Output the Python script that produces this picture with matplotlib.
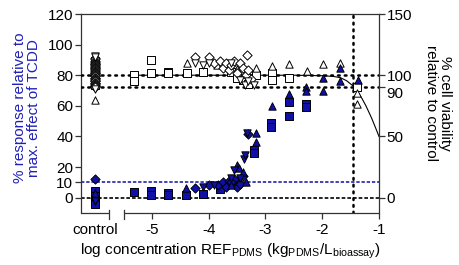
import matplotlib
matplotlib.use("Agg")
import matplotlib.pyplot as plt

plt.rcParams['font.family'] = ['Liberation Sans', 'DejaVu Sans']

BLUE = '#1010A8'
LBLUE = '#2020B8'

# x positions: control plotted at -6 (broken axis)
x_ticks = [-6, -5, -4, -3, -2, -1]
x_ticklabels = ['control', '-5', '-4', '-3', '-2', '-1']
left_ticks = [0, 10, 20, 40, 60, 80, 100, 120]
right_ticks = [0, 50, 90, 100, 150]

# ---- response (% of max TCDD effect), filled blue markers ----
resp_sq_x = [-6, -6, -6, -6, -5.31, -5.01, -5.01, -4.71, -4.71, -4.40, -4.10,
             -3.80, -3.65, -3.50, -3.20, -3.20, -2.90, -2.90, -2.59, -2.59,
             -2.28, -2.28]
resp_sq_y = [4.5, 1, -2.5, -4, 3.7, 4.5, 2, 3, 1.8, 2, 2.6,
             6, 9, 11, 31, 29, 48.5, 46.5, 62.8, 53.5, 61, 59]
resp_di_x = [-6, -6, -4.25, -3.99, -3.83, -3.75, -3.70, -3.65, -3.55, -3.50,
             -3.45, -3.40, -3.30, -3.60]
resp_di_y = [12.4, 0, 6.3, 8.5, 8.5, 10, 7, 11, 12, 7, 9, 14, 41.5, 10]
resp_tu_x = [-6, -4.40, -3.60, -3.50, -3.47, -3.40, -3.35, -3.16, -3.16, -2.88,
             -2.59, -2.28, -2.28, -1.98, -1.98, -1.68, -1.68, -1.37]
resp_tu_y = [3, 6.3, 8, 21.5, 19.4, 17, 10, 42, 36.7, 60,
             67.6, 72, 70, 78, 69.4, 85, 76.3, 77]
resp_td_x = [-6, -4.10, -3.90, -3.60, -3.56, -3.45, -3.38, -3.36, -3.33]
resp_td_y = [-2, 7, 8, 13, 18, 13, 25, 28, 42]

# ---- cell viability (% of control), open markers ----
via_ctrl_di_y = [114, 113, 112, 111, 110, 109.5, 109, 108, 107.5, 107, 106,
                 105.5, 105, 104, 103.5, 103, 102, 101.5, 101, 100, 99.5, 99,
                 98, 97.5, 97, 96, 95.5, 95, 94, 93.5, 93, 92, 91.5, 91, 90]
via_ctrl_sq_y = [112, 108, 104, 100, 96, 92]
via_ctrl_tu_y = [80, 98, 106]
via_ctrl_td_y = [116, 114.5, 89]
via_sq_x = [-5.31, -5.31, -5.01, -5.01, -4.71, -4.71, -4.38, -4.10, -3.60,
            -3.50, -3.40, -3.30, -3.16, -2.89, -2.89, -2.58, -1.38]
via_sq_y = [100.3, 95, 112.5, 101.7, 103, 101.5, 101.7, 103, 103,
            98, 96, 93, 100, 101.7, 96.2, 97.5, 90]
via_tu_x = [-4.38, -3.85, -3.50, -3.16, -2.89, -2.58, -2.27, -1.98, -1.68,
            -1.38, -1.38]
via_tu_y = [109.8, 108, 105, 106, 107.3, 109, 103.6, 108.8, 110, 85.5, 76.5]
via_di_x = [-4.24, -3.99, -3.90, -3.80, -3.75, -3.70, -3.65, -3.60, -3.55,
            -3.50, -3.45, -3.40, -3.35, -3.33, -3.30, -3.25]
via_di_y = [115, 115, 110, 112, 106, 110, 104, 108, 112,
            102, 110, 106, 100, 116.6, 104, 97]
via_td_x = [-4.24, -4.10, -3.99, -3.60, -3.45, -3.36, -3.30, -3.20]
via_td_y = [110, 108.5, 110, 110, 96, 92, 94.9, 92]

# fitted viability curve
fit_x = [-5.35, -2.5, -2.0, -1.8, -1.68, -1.57, -1.45, -1.37, -1.30, -1.23,
         -1.13, -1.06, -1.0]
fit_y = [100, 100, 99.6, 99, 98, 95.5, 91, 86, 81, 75, 65, 57, 50]

vline_x = -1.46
control_x = -6

fig = plt.figure(figsize=(4.59, 2.65), dpi=100)
ax = fig.add_axes([81/459, 52/265, 298/459, 199/265])
ax2 = ax.twinx()

ax.set_xlim(-6.25, -1)
ax.set_ylim(-10, 120)
ax2.set_ylim(-12.5, 150)

# reference lines
dot = dict(color='black', lw=1.8, linestyle=(0, (0.7, 2.0)), dash_capstyle='round')
ax2.axhline(100, **dot, zorder=1)
ax2.axhline(90, **dot, zorder=1)
ax.axvline(vline_x, **dot, zorder=1)
ax.axhline(0, color='black', lw=1.2, linestyle=(0, (2.2, 1.2)), zorder=1)
ax.axhline(10, color=BLUE, lw=1.1, linestyle=(0, (2.2, 1.2)), zorder=1)

ms = 28
ek = dict(edgecolors='black', linewidths=0.7)
# open viability markers
ax2.scatter([control_x] * len(via_ctrl_sq_y), via_ctrl_sq_y, marker='s', s=ms, facecolors='white', **ek, zorder=3)
ax2.scatter([control_x] * len(via_ctrl_tu_y), via_ctrl_tu_y, marker='^', s=ms, facecolors='white', **ek, zorder=3)
ax2.scatter([control_x] * len(via_ctrl_di_y), via_ctrl_di_y, marker='D', s=22, facecolors='white', **ek, zorder=3)
ax2.scatter([control_x] * len(via_ctrl_td_y), via_ctrl_td_y, marker='v', s=ms, facecolors='white', **ek, zorder=3)
ax2.scatter(via_sq_x, via_sq_y, marker='s', s=ms, facecolors='white', **ek, zorder=3)
ax2.scatter(via_tu_x, via_tu_y, marker='^', s=ms, facecolors='white', **ek, zorder=3)
ax2.scatter(via_di_x, via_di_y, marker='D', s=22, facecolors='white', **ek, zorder=3)
ax2.scatter(via_td_x, via_td_y, marker='v', s=ms, facecolors='white', **ek, zorder=3)
ax2.plot(fit_x, fit_y, color='black', lw=0.8, zorder=2)

# filled response markers
for xs, ys, mk, s in [(resp_sq_x, resp_sq_y, 's', ms), (resp_di_x, resp_di_y, 'D', 22),
                      (resp_tu_x, resp_tu_y, '^', ms), (resp_td_x, resp_td_y, 'v', ms)]:
    ax2.scatter(xs, [v * 1.25 for v in ys], marker=mk, s=s, facecolors=BLUE, **ek, zorder=4)

# axes styling
for a in (ax, ax2):
    a.spines['bottom'].set_visible(False)
ax2.spines['left'].set_visible(False)
ax2.spines['top'].set_visible(False)
for sp in ['left', 'top']:
    ax.spines[sp].set_color('#333333')
    ax.spines[sp].set_linewidth(0.9)
ax.spines['right'].set_visible(False)
ax2.spines['right'].set_color('#333333')
ax2.spines['right'].set_linewidth(0.9)

tf = ax.get_xaxis_transform()
for x0, x1 in [(-6.25, -5.75), (-5.5, -1)]:
    ax.plot([x0, x1], [0, 0], transform=tf, color='#333333', lw=0.9, clip_on=False,
            solid_capstyle='butt')
for xb in [-5.75, -5.5]:
    ax.plot([xb, xb], [-0.03, 0.015], transform=tf, color='#333333', lw=0.9, clip_on=False)

fs = 11
ax.set_xticks(x_ticks)
ax.set_xticklabels(x_ticklabels, fontsize=fs)
ax.tick_params(axis='x', direction='out', length=4.5, width=0.9, color='#333333', pad=3)
ax.xaxis.get_major_ticks()[0].tick1line.set_visible(False)
ax.set_yticks(left_ticks)
ax.set_yticklabels([str(t) for t in left_ticks], fontsize=fs)
ax.tick_params(axis='y', direction='out', length=4, width=0.9, color='#333333', pad=1.5)
ax2.set_yticks(right_ticks)
ax2.set_yticklabels([str(t) for t in right_ticks], fontsize=fs)
ax2.tick_params(axis='y', direction='out', length=4, width=0.9, color='#333333', pad=1.5)
for lab in ax2.get_yticklabels():
    if lab.get_text() == '90':
        lab.set_va('top')
        lab.set_y(90)

ax.set_xlabel(r'log concentration REF$_{\mathregular{PDMS}}$ (kg$_{\mathregular{PDMS}}$/L$_{\mathregular{bioassay}}$)',
              fontsize=fs, labelpad=3)
fig.text(27/459, 1 - 108/265, '% response relative to\nmax. effect of TCDD', color=LBLUE,
         fontsize=fs, rotation=90, ha='center', va='center', linespacing=1.0)
fig.text(438/459, 1 - 103/265, '% cell viability\nrelative to control', color='black',
         fontsize=fs, rotation=270, ha='center', va='center', linespacing=1.0)

fig.savefig('out.png', dpi=100)
